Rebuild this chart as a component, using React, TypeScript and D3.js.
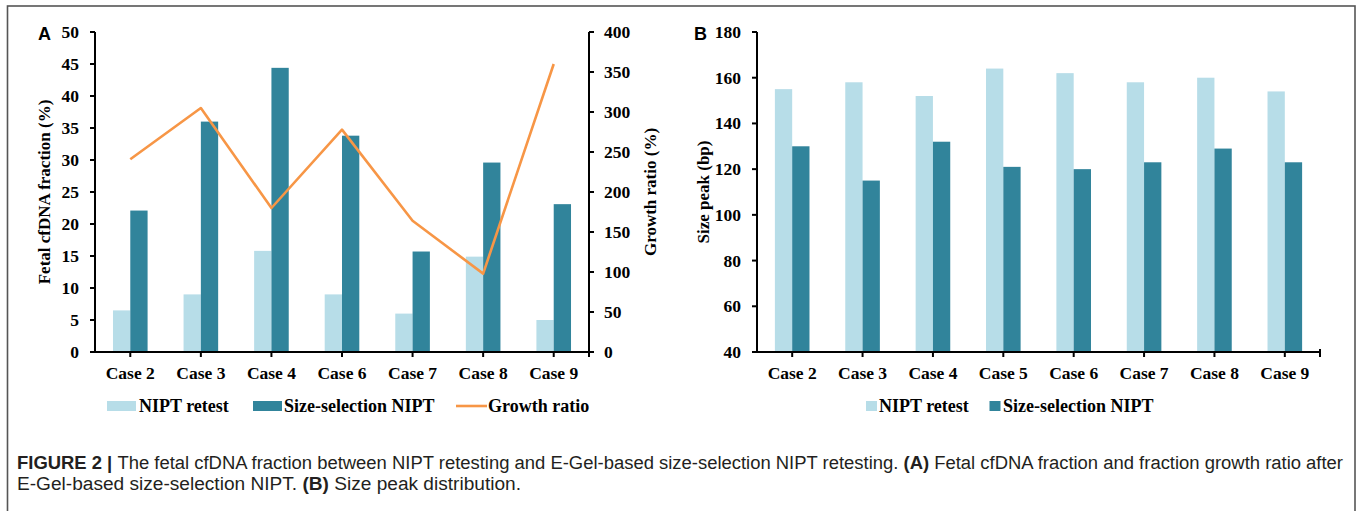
import React from "react";
import * as d3 from "d3";

// ---------- Data ----------
const casesA = ["Case 2", "Case 3", "Case 4", "Case 6", "Case 7", "Case 8", "Case 9"];
const retestA = [6.5, 9.0, 15.8, 9.0, 6.0, 14.9, 5.0];
const sizeSelA = [22.1, 36.0, 44.4, 33.8, 15.7, 29.6, 23.1];
const growthA = [241, 305, 180, 278, 164, 98, 360];
const leftTicksA = [0, 5, 10, 15, 20, 25, 30, 35, 40, 45, 50];
const rightTicksA = [0, 50, 100, 150, 200, 250, 300, 350, 400];

const casesB = ["Case 2", "Case 3", "Case 4", "Case 5", "Case 6", "Case 7", "Case 8", "Case 9"];
const retestB = [155, 158, 152, 164, 162, 158, 160, 154];
const sizeSelB = [130, 115, 132, 121, 120, 123, 129, 123];
const ticksB = [40, 60, 80, 100, 120, 140, 160, 180];

const seriesNames = ["NIPT retest", "Size-selection NIPT"];

// ---------- Styles ----------
const LIGHT = "#b7dde8";
const DARK = "#31849b";
const ORANGE = "#f79646";
const SERIF = "'Liberation Serif', 'Times New Roman', serif";
const SANS = "'Liberation Sans', Arial, sans-serif";
const TICK_FS = 17.5;

const yTop = 32;
const yBot = 352;

function BarPanel(props: {
  cats: string[];
  s1: number[];
  s2: number[];
  x0: number;
  x1: number;
  yDomain: [number, number];
  ticks: number[];
}) {
  const { cats, s1, s2, x0, x1, yDomain, ticks } = props;
  const x = d3.scaleBand<string>().domain(cats).range([x0, x1]).padding(0);
  const inner = d3.scaleBand<string>().domain(seriesNames).range([-17.3, 17.3]).padding(0);
  const y = d3.scaleLinear().domain(yDomain).range([yBot, yTop]);
  const center = (c: string) => (x(c) as number) + x.bandwidth() / 2;
  const series = [s1, s2];
  const colors = [LIGHT, DARK];
  return (
    <g>
      {series.map((vals, si) =>
        cats.map((c, i) => (
          <rect
            key={`b${si}-${i}`}
            x={center(c) + (inner(seriesNames[si]) as number)}
            y={y(vals[i])}
            width={inner.bandwidth()}
            height={yBot - y(vals[i])}
            fill={colors[si]}
          />
        ))
      )}
      {/* left axis */}
      <line x1={x0} x2={x0} y1={yTop} y2={yBot} stroke="#000" strokeWidth={2} />
      {ticks.map((t) => (
        <g key={`t${t}`}>
          <line x1={x0 - 5} x2={x0} y1={y(t)} y2={y(t)} stroke="#000" strokeWidth={2} />
          <text
            x={x0 - 16}
            y={y(t)}
            dy="0.34em"
            textAnchor="end"
            fontFamily={SERIF}
            fontWeight="bold"
            fontSize={TICK_FS}
          >
            {t}
          </text>
        </g>
      ))}
      {/* x axis */}
      <line x1={x0 - 5} x2={x1 + 1} y1={yBot} y2={yBot} stroke="#000" strokeWidth={2} />
      <line x1={x1} x2={x1} y1={yBot - 3} y2={yBot + 5} stroke="#000" strokeWidth={2} />
      {cats.map((c) => (
        <g key={`x${c}`}>
          <line x1={center(c)} x2={center(c)} y1={yBot} y2={yBot + 5} stroke="#000" strokeWidth={2} />
          <text
            x={center(c)}
            y={378.5}
            textAnchor="middle"
            fontFamily={SERIF}
            fontWeight="bold"
            fontSize={TICK_FS}
          >
            {c}
          </text>
        </g>
      ))}
    </g>
  );
}

export default function App() {
  // Panel A
  const ax0 = 95;
  const ax1 = 589;
  const xA = d3.scaleBand<string>().domain(casesA).range([ax0, ax1]).padding(0);
  const yR = d3.scaleLinear().domain([0, 400]).range([yBot, yTop]);
  const lineGen = d3
    .line<number>()
    .x((_, i) => (xA(casesA[i]) as number) + xA.bandwidth() / 2)
    .y((d) => yR(d));

  const bx0 = 757;
  const bx1 = 1320;

  const legendText = {
    fontFamily: SERIF,
    fontWeight: "bold" as const,
    fontSize: 18,
  };

  return (
    <svg
      width={1357}
      height={511}
      style={{ position: "absolute", left: 0, top: 0, background: "#fff" }}
    >
      <rect x={0} y={0} width={1357} height={511} fill="#fff" />
      {/* frame */}
      <rect x={7.5} y={6} width={1347.5} height={520} fill="none" stroke="#555" strokeWidth={1.6} />

      {/* ---------- Panel A ---------- */}
      <BarPanel
        cats={casesA}
        s1={retestA}
        s2={sizeSelA}
        x0={ax0}
        x1={ax1}
        yDomain={[0, 50]}
        ticks={leftTicksA}
      />
      <path d={lineGen(growthA) || ""} fill="none" stroke={ORANGE} strokeWidth={2.6} strokeLinejoin="round" />
      {/* right axis */}
      <line x1={ax1} x2={ax1} y1={yTop} y2={yBot + 4} stroke="#000" strokeWidth={2} />
      {rightTicksA.map((t) => (
        <g key={`r${t}`}>
          <line x1={ax1} x2={ax1 + 5} y1={yR(t)} y2={yR(t)} stroke="#000" strokeWidth={2} />
          <text x={ax1 + 15} y={yR(t)} dy="0.34em" fontFamily={SERIF} fontWeight="bold" fontSize={TICK_FS}>
            {t}
          </text>
        </g>
      ))}
      <text
        transform="translate(50,192) rotate(-90)"
        textAnchor="middle"
        fontFamily={SERIF}
        fontWeight="bold"
        fontSize={17}
      >
        Fetal cfDNA fraction (%)
      </text>
      <text
        transform="translate(656,192) rotate(-90)"
        textAnchor="middle"
        fontFamily={SERIF}
        fontWeight="bold"
        fontSize={17}
      >
        Growth ratio (%)
      </text>
      <text x={38} y={39.5} fontFamily={SANS} fontWeight="bold" fontSize={18}>
        A
      </text>
      {/* legend A */}
      <rect x={107} y={401} width={29} height={10} fill={LIGHT} />
      <text x={139} y={412} {...legendText}>
        {seriesNames[0]}
      </text>
      <rect x={253} y={401} width={29} height={10} fill={DARK} />
      <text x={284} y={412} {...legendText}>
        {seriesNames[1]}
      </text>
      <line x1={456} x2={487} y1={406} y2={406} stroke={ORANGE} strokeWidth={2.6} />
      <text x={488} y={412} {...legendText}>
        Growth ratio
      </text>

      {/* ---------- Panel B ---------- */}
      <BarPanel
        cats={casesB}
        s1={retestB}
        s2={sizeSelB}
        x0={bx0}
        x1={bx1}
        yDomain={[40, 180]}
        ticks={ticksB}
      />
      <text
        transform="translate(709,192) rotate(-90)"
        textAnchor="middle"
        fontFamily={SERIF}
        fontWeight="bold"
        fontSize={17}
      >
        Size peak (bp)
      </text>
      <text x={694} y={39.5} fontFamily={SANS} fontWeight="bold" fontSize={18}>
        B
      </text>
      {/* legend B */}
      <rect x={866} y={401} width={11} height={10} fill={LIGHT} />
      <text x={879} y={412} {...legendText}>
        {seriesNames[0]}
      </text>
      <rect x={989.5} y={401} width={11} height={10} fill={DARK} />
      <text x={1003} y={412} {...legendText}>
        {seriesNames[1]}
      </text>

      {/* ---------- Caption ---------- */}
      <text
        x={17}
        y={469}
        fontFamily={SANS}
        fontSize={18}
        fill="#231f20"
        textLength={1326}
        lengthAdjust="spacingAndGlyphs"
      >
        <tspan fontWeight="bold">FIGURE 2 | </tspan>
        <tspan>The fetal cfDNA fraction between NIPT retesting and E-Gel-based size-selection NIPT retesting. </tspan>
        <tspan fontWeight="bold">(A)</tspan>
        <tspan> Fetal cfDNA fraction and fraction growth ratio after</tspan>
      </text>
      <text
        x={17}
        y={490}
        fontFamily={SANS}
        fontSize={18}
        fill="#231f20"
        textLength={504}
        lengthAdjust="spacingAndGlyphs"
      >
        <tspan>E-Gel-based size-selection NIPT. </tspan>
        <tspan fontWeight="bold">(B)</tspan>
        <tspan> Size peak distribution.</tspan>
      </text>
    </svg>
  );
}
